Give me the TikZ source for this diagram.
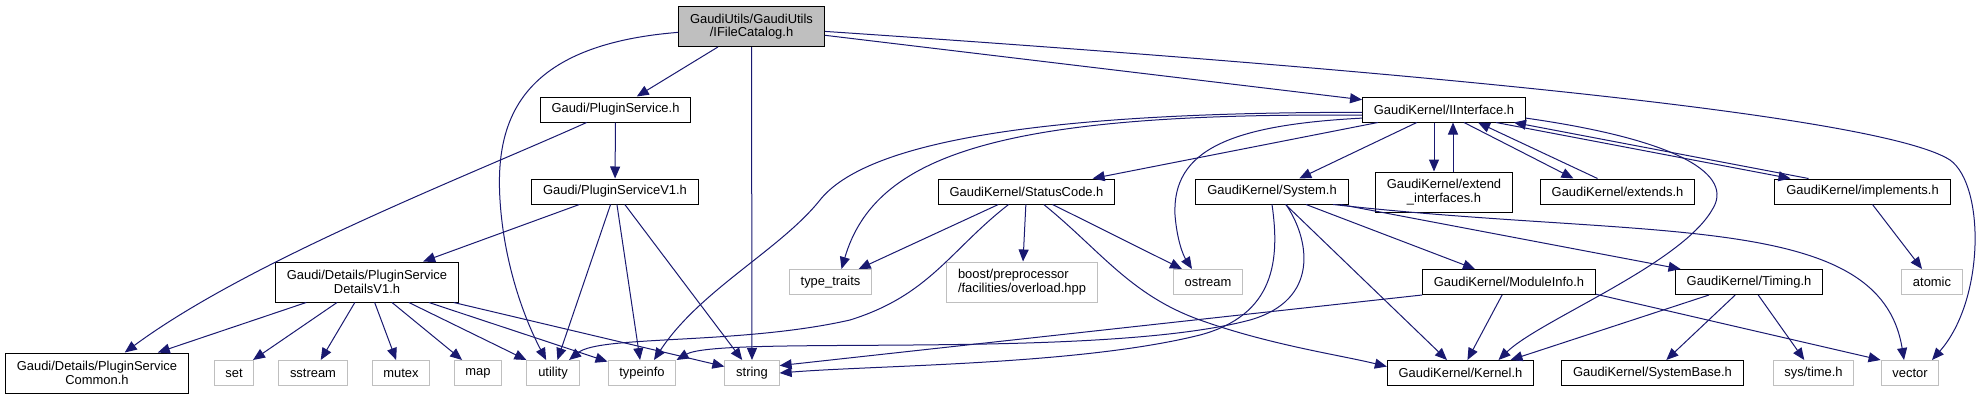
\documentclass[tikz,border=0pt]{standalone}
\usepackage{fontspec}
\setmainfont{Liberation Sans}
\usetikzlibrary{arrows.meta, calc}
\definecolor{midnight}{HTML}{191970}
\definecolor{faint}{HTML}{BFBFBF}

\begin{document}
\begin{tikzpicture}[x=0.75pt, y=-0.75pt,
    hdr/.style={draw=black, line width=0.75pt, fill=white, font=\fontsize{9.7}{10}\selectfont,
      inner xsep=8.5pt, inner ysep=2pt, minimum height=18.75pt, align=center},
    ext/.style={hdr, draw=faint},
    top/.style={hdr, fill=faint},
    two/.style={minimum height=30pt},
    inc/.style={draw=midnight, line width=0.75pt, -{Triangle[length=9pt, width=7.5pt]}}]
  \useasboundingbox (0,0) rectangle (1985,400);

  \node [top, two] (cat) at (751.5,26.5) {GaudiUtils/GaudiUtils\\/IFileCatalog.h};
  \node [hdr] (ps) at (615.5,109.5) {Gaudi/PluginService.h};
  \node [hdr] (psv1) at (615,191.5) {Gaudi/PluginServiceV1.h};
  \node [hdr, two] (det) at (367,282) {Gaudi/Details/PluginService\\DetailsV1.h};
  \node [hdr, two] (common) at (97,373) {Gaudi/Details/PluginService\\Common.h};
  \foreach \name/\x in {set/234, sstream/313, mutex/401, map/478, utility/553, typeinfo/642, string/752, vector/1910}
    \node [ext] (\name) at (\x,373) {\name};
  \node [ext] (systime) at (1813.5,373) {sys/time.h};

  \node [hdr] (iif) at (1444,109.5) {GaudiKernel/IInterface.h};
  \node [hdr] (status) at (1026.5,191.5) {GaudiKernel/StatusCode.h};
  \node [hdr] (system) at (1272,191.5) {GaudiKernel/System.h};
  \node [hdr, two] (extif) at (1444,192) {GaudiKernel/extend\\\_interfaces.h};
  \node [hdr] (extends) at (1617.5,191.5) {GaudiKernel/extends.h};
  \node [hdr] (impl) at (1862.5,191.5) {GaudiKernel/implements.h};
  \node [ext] (traits) at (830.5,282) {type\_traits};
  \node [ext, two, align=left] (boost) at (1022,282) {boost/preprocessor\\/facilities/overload.hpp};
  \node [ext] (ostream) at (1208,282) {ostream};
  \node [hdr] (modinfo) at (1509,282) {GaudiKernel/ModuleInfo.h};
  \node [hdr] (timing) at (1749,282) {GaudiKernel/Timing.h};
  \node [ext] (atomic) at (1932,282) {atomic};
  \node [hdr] (kernel) at (1460.5,373) {GaudiKernel/Kernel.h};
  \node [hdr] (sysbase) at (1652.5,373) {GaudiKernel/SystemBase.h};

  % from the catalog header
  \draw [inc] (cat) .. controls (520,45) and (495,120) .. (500,200) .. controls (504,265) and (525,320) .. (utility);
  \draw [inc] (cat) -- (ps);
  \draw [inc] (cat) -- (string);
  \draw [inc] (cat) -- (iif);
  \draw [inc] (cat) .. controls (1400,70) and (1880,115) .. (1950,160) .. controls (1985,185) and (1985,300) .. ($(vector.north)+(22,0)$);

  % plugin service
  \draw [inc] (ps) -- (psv1);
  \draw [inc] (ps) .. controls (470,175) and (250,260) .. (common);
  \foreach \t in {det, utility, typeinfo, string}
    \draw [inc] (psv1) -- (\t);
  \foreach \t in {common, set, sstream, mutex, map, utility, typeinfo, string}
    \draw [inc] (det) -- (\t);

  % IInterface
  \draw [inc] (iif) -- (status);
  \draw [inc] (iif) -- (system);
  \draw [inc] ($(iif.south)+(-10,0)$) -- ($(extif.north)+(-10,0)$);
  \draw [inc] ($(extif.north)+(9,0)$) -- ($(iif.south)+(9,0)$);
  \draw [inc] ($(iif.south)+(20,0)$) -- ($(extends.north)+(-44,0)$);
  \draw [inc] ($(extends.north)+(-20,0)$) -- ($(iif.south)+(34,0)$);
  \draw [inc] ($(iif.south)+(52,0)$) -- ($(impl.north)+(-72,0)$);
  \draw [inc] ($(impl.north)+(-54,0)$) -- ($(iif.south)+(70,0)$);
  \draw [inc] (iif.184) .. controls (1000,112) and (875,155) .. ($(traits.north)+(11,0)$);
  \draw [inc] (iif.182) .. controls (1000,112) and (860,150) .. (820,200) .. controls (780,250) and (700,290) .. ($(typeinfo.north)+(12,0)$);
  \draw [inc] (iif.186) .. controls (1230,125) and (1172,150) .. (1175,215) .. controls (1177,240) and (1183,255) .. ($(ostream.north)+(-16,0)$);
  \draw [inc] (iif.-6) .. controls (1680,140) and (1735,175) .. (1712,210) .. controls (1680,265) and (1540,320) .. ($(kernel.north)+(38,0)$);

  % StatusCode
  \draw [inc] (status) -- (traits);
  \draw [inc] (status) -- (boost);
  \draw [inc] (status) -- (ostream);
  \draw [inc] (status.216) .. controls (950,250) and (930,295) .. (850,320) .. controls (740,345) and (600,335) .. (utility);
  \draw [inc] (status.-37) .. controls (1100,250) and (1130,295) .. (1200,320) .. controls (1270,345) and (1340,355) .. (kernel.175);

  % System
  \draw [inc] (system.south) .. controls (1280,260) and (1275,315) .. (1200,335) .. controls (1080,365) and (880,365) .. (string.east);
  \draw [inc] ($(system.south)+(14,0)$) .. controls (1310,240) and (1320,300) .. (1250,320) .. controls (1100,360) and (720,335) .. (typeinfo.north east);
  \draw [inc] (system) -- (kernel);
  \draw [inc] (system) -- (modinfo);
  \draw [inc] (system) -- (timing);
  \draw [inc] (system.-12) .. controls (1650,240) and (1880,210) .. ($(vector.north)+(-6,0)$);

  % ModuleInfo, Timing, implements
  \draw [inc] (modinfo) -- (kernel);
  \draw [inc] (modinfo.-8) -- (vector.north west);
  \draw [inc] (modinfo.south west) -- (string.15);
  \draw [inc] (timing.198) -- ($(kernel.north)+(50,0)$);
  \draw [inc] (timing) -- (sysbase);
  \draw [inc] (timing) -- (systime);
  \draw [inc] (impl) -- (atomic);
\end{tikzpicture}
\end{document}
